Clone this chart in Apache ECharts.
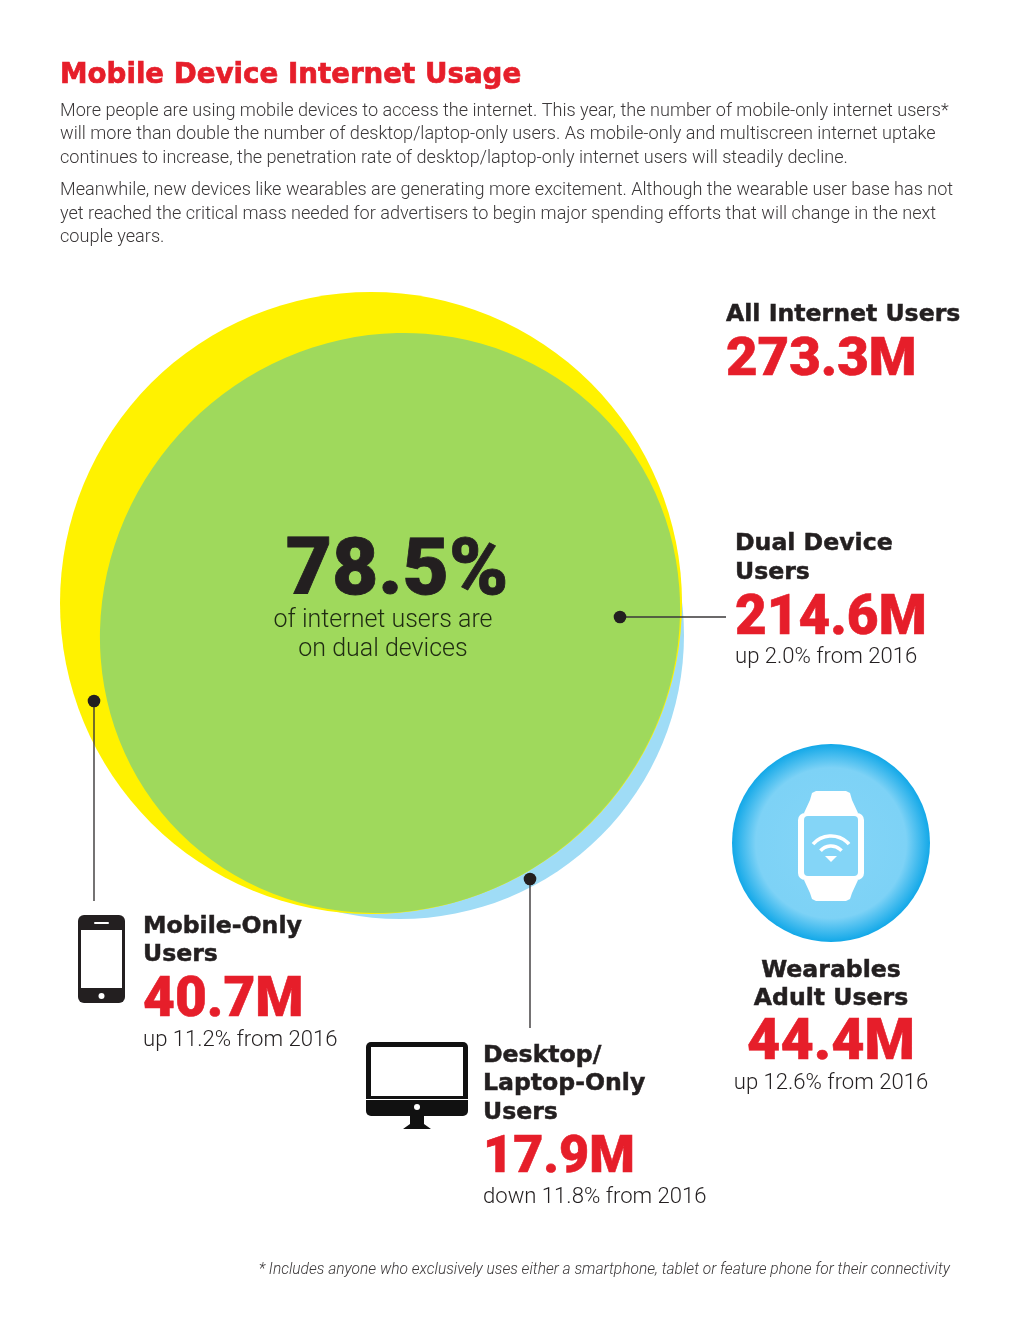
<!DOCTYPE html>
<html>
<head>
<meta charset="utf-8">
<title>Mobile Device Internet Usage</title>
<script src="https://cdn.jsdelivr.net/npm/echarts@6/dist/echarts.min.js"></script>
<style>
html, body { margin: 0; padding: 0; background: #fff; }
#chart { width: 1024px; height: 1326px; }
</style>
</head>
<body>
<div id="chart"></div>
<script>
// values in millions
const mobileOnly = 40.7
const dualDevice = 214.6
const desktopOnly = 17.9
const allUsers = 273.3
const wearables = 44.4

const circleNames = ['Desktop/Laptop-Only', 'Mobile-Only', 'Dual Device']
const circleValues = [dualDevice + desktopOnly, dualDevice + mobileOnly, dualDevice]

// layout of the circles, not data
const circleColors = ['#9fdcf6', '#fff200', '#9fd95c']
const circleCenters = [[400, 635], [371, 603], [390, 623]]
const circleSizes = [[568, 568], [622, 622], [594, 566]]
const circleRotate = [0, 0, 45]

const titleText = 'Mobile Device Internet Usage'
const introLines = [
    'More people are using mobile devices to access the internet. This year, the number of mobile-only internet users*',
    'will more than double the number of desktop/laptop-only users. As mobile-only and multiscreen internet uptake',
    'continues to increase, the penetration rate of desktop/laptop-only internet users will steadily decline.'
]
const introLines2 = [
    'Meanwhile, new devices like wearables are generating more excitement. Although the wearable user base has not',
    'yet reached the critical mass needed for advertisers to begin major spending efforts that will change in the next',
    'couple years.'
]
const footnote = '* Includes anyone who exclusively uses either a smartphone, tablet or feature phone for their connectivity'

const INK = '#231f20'
const RED = '#e61e2a'
const BODY = 'Roboto, sans-serif'
const HEAD = '"DejaVu Sans", sans-serif'
const NUM = 'Roboto, sans-serif'

var myChart = echarts.init(document.getElementById('chart'))

const text = (str, x, y, font, fill, align, bold) => ({
    type: 'text',
    z: 10,
    style: {
        text: str, x: x, y: y, font: font, fill: fill, align: align || 'left', verticalAlign: 'middle',
        stroke: bold ? fill : null, lineWidth: bold || 0
    }
})
const line = (x1, y1, x2, y2) => ({
    type: 'line',
    z: 8,
    shape: { x1, y1, x2, y2 },
    style: { stroke: '#3a3738', lineWidth: 1.4 }
})
const dot = (cx, cy) => ({
    type: 'circle',
    z: 9,
    shape: { cx, cy, r: 6.3 },
    style: { fill: INK }
})
const rrect = (x, y, width, height, r, fill) => ({
    type: 'rect',
    z: 8,
    shape: { x, y, width, height, r },
    style: { fill }
})
const poly = (points, fill) => ({
    type: 'polygon',
    z: 8,
    shape: { points },
    style: { fill }
})
const wifi = (r) => ({
    type: 'arc',
    z: 9,
    shape: { cx: 831, cy: 860, r, startAngle: -Math.PI * 0.77, endAngle: -Math.PI * 0.23 },
    style: { stroke: '#fff', lineWidth: 3.6, fill: 'none' }
})
const circleEl = (cx, cy, r, fill) => ({ type: 'circle', z: 8, shape: { cx, cy, r }, style: { fill } })

const bodyFont = '300 18.1px ' + BODY
const headFont = 'bold 23.6px ' + HEAD
const subFont = '300 22.1px ' + BODY
const numFont = px => '900 ' + px + 'px ' + NUM

var elements = [
    text(titleText, 60, 76, 'bold 27.7px ' + HEAD, RED, 'left', 0.7),
    ...introLines.map((s, i) => text(s, 60, 111 + i * 23.7, bodyFont, '#3b3839')),
    ...introLines2.map((s, i) => text(s, 60, 190.5 + i * 23.5, bodyFont, '#3b3839')),

    // all users
    text('All Internet Users', 726, 314.5, headFont, INK, 'left', 0.5),
    text(allUsers.toFixed(1) + 'M', 726, 361, numFont(54.5), RED, 'left', 0.6),

    // center callout
    text('78.5%', 397, 574, '900 80px ' + NUM, INK, 'center', 0.8),
    text('of internet users are', 383, 621, '300 25px ' + BODY, '#1f2b12', 'center'),
    text('on dual devices', 383, 650, '300 25px ' + BODY, '#1f2b12', 'center'),

    // dual device
    dot(620, 617), line(620, 617, 726, 617),
    text('Dual Device', 735, 543.5, headFont, INK, 'left', 0.5),
    text('Users', 735, 572.5, headFont, INK, 'left', 0.5),
    text(dualDevice.toFixed(1) + 'M', 735, 620, numFont(54.8), RED, 'left', 0.6),
    text('up 2.0% from 2016', 735, 657, subFont, INK),

    // mobile only
    dot(94, 701), line(94, 701, 94, 901),
    rrect(78, 915, 47, 88, 6, '#231f20'),
    rrect(81, 930, 41, 58, 0, '#fff'),
    rrect(94, 922, 15, 2, 1, '#fff'),
    circleEl(101.5, 996, 3, '#fff'),
    text('Mobile-Only', 143, 926.5, headFont, INK, 'left', 0.5),
    text('Users', 143, 954.5, headFont, INK, 'left', 0.5),
    text(mobileOnly.toFixed(1) + 'M', 143, 1002.5, numFont(55), RED, 'left', 0.6),
    text('up 11.2% from 2016', 143, 1040, subFont, INK),

    // desktop only
    dot(530, 879), line(530, 879, 530, 1028),
    rrect(366, 1042, 102, 74, 5, '#111'),
    rrect(371, 1047, 92, 49, 0, '#fff'),
    rrect(366, 1099, 102, 1, 0, '#fff'),
    circleEl(417, 1107, 3, '#fff'),
    poly([[410, 1115], [424, 1115], [424, 1124], [431, 1129], [403, 1129], [410, 1124]], '#111'),
    text('Desktop/', 483, 1055.5, headFont, INK, 'left', 0.5),
    text('Laptop-Only', 483, 1083.5, headFont, INK, 'left', 0.5),
    text('Users', 483, 1112.5, headFont, INK, 'left', 0.5),
    text(desktopOnly.toFixed(1) + 'M', 483, 1159, numFont(52), RED, 'left', 0.6),
    text('down 11.8% from 2016', 483, 1197, subFont, INK),

    // wearables
    poly([[816, 791], [846, 791], [850, 793], [852, 800], [858, 813], [804, 813], [810, 800], [812, 793]], '#fff'),
    poly([[804, 880], [858, 880], [852, 893], [850, 899], [846, 901], [816, 901], [812, 899], [810, 893]], '#fff'),
    rrect(798, 813, 66, 67, 7, '#fff'),
    rrect(804, 816, 54, 60, 4, '#84d5f7'),
    wifi(24), wifi(14),
    poly([[825, 856], [837, 856], [831, 862]], '#fff'),
    text('Wearables', 831, 970.5, headFont, INK, 'center', 0.5),
    text('Adult Users', 831, 998.5, headFont, INK, 'center', 0.5),
    text(wearables.toFixed(1) + 'M', 831, 1045, numFont(57.5), RED, 'center', 0.6),
    text('up 12.6% from 2016', 831, 1083, subFont, INK, 'center'),

    text(footnote, 950, 1270, 'italic 300 15.55px ' + BODY, '#3b3839', 'right')
]

myChart.setOption({
    animation: false,
    grid: { left: 0, right: 0, top: 0, bottom: 0 },
    xAxis: { type: 'value', min: 0, max: 1024, show: false },
    yAxis: { type: 'value', min: 0, max: 1326, inverse: true, show: false },
    series: [
        {
            name: 'Users',
            type: 'scatter',
            silent: true,
            clip: false,
            data: circleValues.map((v, i) => ({
                name: circleNames[i],
                value: [circleCenters[i][0], circleCenters[i][1], v],
                symbolSize: circleSizes[i],
                symbolRotate: circleRotate[i],
                itemStyle: { color: circleColors[i], opacity: 1 }
            }))
        },
        {
            name: 'Wearables',
            type: 'scatter',
            silent: true,
            data: [{
                value: [831, 843, wearables],
                symbolSize: 198,
                itemStyle: {
                    opacity: 1,
                    color: {
                        type: 'radial', x: 0.5, y: 0.5, r: 0.5,
                        colorStops: [
                            { offset: 0, color: '#84d5f7' },
                            { offset: 0.76, color: '#7dd2f6' },
                            { offset: 1, color: '#12a8e8' }
                        ]
                    }
                }
            }]
        }
    ],
    graphic: { elements: elements }
})
</script>
</body>
</html>
